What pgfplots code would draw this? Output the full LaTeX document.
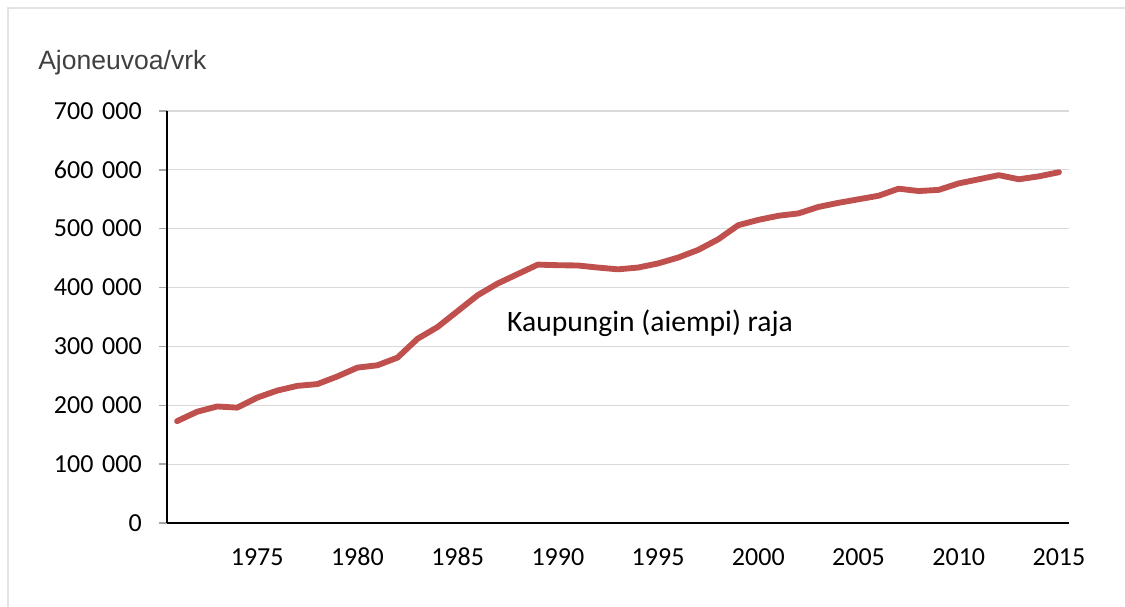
\documentclass[border=0pt]{standalone}
\usepackage{fontspec}
\setmainfont{Carlito}
\newfontfamily\arialfont{Liberation Sans}
\usepackage{pgfplots}
\pgfplotsset{compat=1.18}
\definecolor{linered}{HTML}{C0504D}
\definecolor{gridgray}{HTML}{D9D9D9}
\definecolor{tickgray}{HTML}{A6A6A6}
\definecolor{bordergray}{HTML}{E3E3E3}
\definecolor{labelgray}{HTML}{404040}
\begin{document}
\begin{tikzpicture}
\useasboundingbox (0,0) rectangle (843.75pt,455.25pt);
\fill[white] (0,0) rectangle (843.75pt,455.25pt);
\draw[bordergray, line width=0.9pt] (6pt,0) -- (6pt,449.25pt) -- (843.75pt,449.25pt);
\begin{axis}[
  at={(125.25pt,63pt)}, anchor=south west,
  scale only axis, width=676.5pt, height=309pt,
  xmin=1970.5, xmax=2015.5, ymin=0, ymax=700000,
  axis lines*=left,
  axis line style={black, line width=1pt},
  xtick={1975,1980,...,2015},
  xticklabels={1975,1980,1985,1990,1995,2000,2005,2010,2015},
  xtick style={draw=none},
  minor xtick={1971.5,1972.5,...,2015.5},
  minor x tick style={tickgray!80!black, line width=0.75pt},
  minor tick length=5.25pt,
  tick align=inside,
  ytick={0,100000,...,700000},
  yticklabels={0,100\,\,000,200\,\,000,300\,\,000,400\,\,000,500\,\,000,600\,\,000,700\,\,000},
  scaled y ticks=false,
  major tick length=6pt,
  ytick style={tickgray, line width=1.1pt, xshift=-6pt},
  ymajorgrids,
  grid style={gridgray, line width=0.8pt},
  xticklabel style={font=\fontsize{19.5pt}{22pt}\selectfont, inner sep=0pt, anchor=base, yshift=-31.5pt},
  yticklabel style={font=\fontsize{19.5pt}{22pt}\selectfont, inner sep=0pt, anchor=base east, xshift=-18.75pt, yshift=-6.2pt},
  clip=false,
]
\addplot[linered, line width=4.4pt, line join=round, line cap=round] coordinates {
(1971,173000) (1972,189000) (1973,198000) (1974,196000) (1975,213000)
(1976,225000) (1977,233000) (1978,236000) (1979,249000) (1980,264000)
(1981,268000) (1982,281000) (1983,313000) (1984,333000) (1985,360000)
(1986,387000) (1987,407000) (1988,423000) (1989,439000) (1990,438000)
(1991,437500) (1992,434000) (1993,431000) (1994,434000) (1995,441000)
(1996,451000) (1997,464000) (1998,482000) (1999,506000) (2000,515000)
(2001,522000) (2002,526000) (2003,537000) (2004,544000) (2005,550000)
(2006,556000) (2007,568000) (2008,564000) (2009,566000) (2010,577000)
(2011,584000) (2012,591000) (2013,584000) (2014,589000) (2015,596000)
};
\node[font=\fontsize{22.2pt}{26pt}\selectfont, inner sep=0pt] at (axis cs:1994.6,339800) {Kaupungin (aiempi) raja};
\end{axis}
\node[anchor=base west, inner sep=0pt, font=\arialfont\fontsize{19.9pt}{23pt}\selectfont, text=labelgray] at (28.5pt,402.75pt) {Ajoneuvoa/vrk};
\end{tikzpicture}
\end{document}
